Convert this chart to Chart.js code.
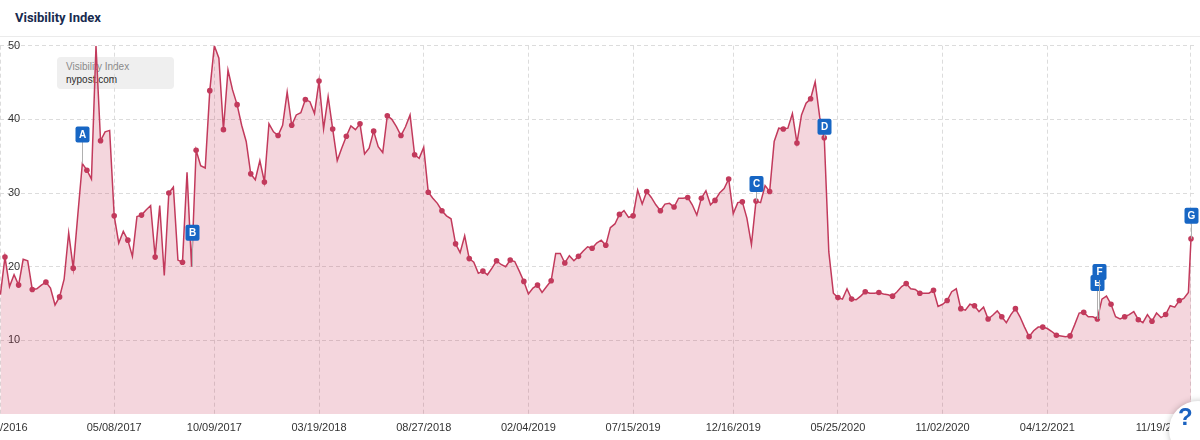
<!DOCTYPE html>
<html>
<head>
<meta charset="utf-8">
<title>Visibility Index</title>
<script src="https://cdn.jsdelivr.net/npm/chart.js@4.4.0/dist/chart.umd.min.js"></script>
<style>
  html, body { margin: 0; padding: 0; background: #fff; }
  body { width: 1200px; height: 440px; position: relative; overflow: hidden; font-family: "Liberation Sans", Arial, sans-serif; }
  .title { position: absolute; left: 15px; top: 9px; font: bold 13px Roboto, "Liberation Sans", sans-serif; line-height: 17px; color: #182b50; }
  .rule { position: absolute; left: 0; right: 0; top: 36px; height: 1px; background: #ebebeb; }
  .legend { position: absolute; left: 57px; top: 57px; width: 117px; height: 32px; box-sizing: border-box; padding: 3px 0 0 9px; background: #efefef; border-radius: 4px; font-size: 10px; line-height: 13px; }
  .legend .name { color: #8a8a8a; }
  .legend .domain { color: #2b2b2b; }
  .chart-box { position: absolute; left: -16px; top: 30px; width: 1216px; height: 410px; }
  .help { position: absolute; left: 1169px; top: 401px; width: 58px; height: 58px; border-radius: 50%; background: #fff; box-shadow: 0 0 6px rgba(0, 0, 0, 0.25); }
  .help span { position: absolute; left: 9px; top: 4px; font: bold 24px "Liberation Sans", Arial, sans-serif; line-height: 24px; color: #1b62c0; }
</style>
</head>
<body>
<div class="title">Visibility Index</div>
<div class="rule"></div>
<div class="legend"><div class="name">Visibility Index</div><div class="domain">nypost.com</div></div>
<div class="chart-box"><canvas id="chart"></canvas></div>
<div class="help"><span>?</span></div>

<script>
// weekly values, first week = 11/14/2016
const values = [
  16.2, 21.3, 17.3, 18.9, 17.5, 21.0, 20.8, 16.9, 17.0, 17.5,
  17.9, 17.1, 14.8, 15.9, 18.3, 24.6, 19.8, 27.0, 34.0, 33.1,
  31.9, 50.0, 37.1, 38.3, 38.5, 26.9, 23.2, 24.8, 23.6, 21.4,
  26.8, 27.0, 27.7, 28.3, 21.3, 28.3, 18.8, 30.0, 30.8, 20.9,
  20.6, 32.8, 20.0, 35.8, 33.7, 33.4, 43.9, 50.0, 48.3, 38.6,
  46.7, 44.0, 42.0, 39.2, 37.0, 32.6, 31.8, 34.4, 31.5, 39.4,
  38.3, 37.8, 39.2, 43.7, 39.2, 40.6, 40.9, 42.7, 42.4, 40.8,
  45.2, 38.7, 43.1, 38.7, 34.4, 36.1, 37.7, 39.1, 38.6, 39.4,
  35.3, 36.1, 38.4, 36.3, 35.5, 40.5, 40.0, 39.0, 37.8, 39.0,
  40.6, 35.2, 34.7, 36.2, 30.1, 29.3, 28.6, 27.6, 26.9, 26.5,
  23.1, 21.9, 24.2, 21.1, 20.6, 19.1, 19.4, 18.9, 19.8, 20.8,
  20.3, 20.0, 20.9, 20.7, 19.4, 18.0, 16.3, 17.1, 17.5, 16.5,
  17.3, 18.1, 21.8, 21.8, 20.5, 21.5, 20.8, 21.4, 22.1, 22.7,
  22.5, 23.2, 23.6, 22.9, 25.3, 25.8, 27.1, 27.6, 26.7, 26.9,
  30.4, 28.5, 30.2, 29.4, 28.4, 27.6, 28.5, 28.6, 28.1, 29.3,
  29.3, 29.4, 28.4, 27.0, 29.3, 30.3, 28.4, 29.0, 30.0, 30.6,
  31.9, 27.2, 28.7, 28.8, 26.6, 23.0, 28.9, 28.7, 31.0, 30.2,
  37.0, 38.8, 38.7, 38.8, 40.8, 36.8, 40.6, 42.2, 42.8, 45.1,
  40.3, 37.5, 22.0, 16.4, 15.8, 15.6, 17.0, 15.6, 15.5, 16.0,
  16.6, 16.4, 16.4, 16.5, 16.3, 16.2, 16.0, 16.6, 17.3, 17.7,
  17.0, 16.9, 16.4, 16.4, 16.4, 16.8, 14.6, 14.9, 15.4, 16.6,
  17.0, 14.3, 14.1, 14.9, 14.7, 13.9, 14.5, 12.9, 13.4, 14.0,
  13.2, 12.4, 13.5, 14.3, 13.2, 11.8, 10.5, 11.3, 11.8, 11.8,
  11.6, 11.2, 10.7, 10.6, 10.5, 10.6, 12.1, 13.7, 13.8, 13.2,
  13.2, 12.9, 15.6, 16.0, 14.9, 13.2, 12.9, 13.2, 13.5, 13.9,
  12.8, 12.4, 13.5, 12.6, 13.7, 13.1, 13.5, 14.7, 14.5, 15.4,
  15.7, 16.5
];

// latest reading (Friday 11/19/2021), in weeks from the start
const latestWeek = 261.57;
const latestValue = 23.8;

// x axis ticks (week number) and their labels
const tickWeeks = [0, 25, 47, 70, 93, 116, 139, 161, 184, 207, 230, 261.57];
const tickLabels = ["11/14/2016", "05/08/2017", "10/09/2017", "03/19/2018", "08/27/2018", "02/04/2019",
  "07/15/2019", "12/16/2019", "05/25/2020", "11/02/2020", "04/12/2021", "11/19/2021"];

// event flags
const flagLabels = ["A", "B", "C", "D", "E", "F", "G"];
const flagWeeks = [18, 42, 166, 181, 241, 241, 261.57];

const points = values.map((v, i) => ({ x: i, y: v }));
points.push({ x: latestWeek, y: latestValue });

const lineColor = "#c23a5c";
const font = '"Liberation Sans", Arial, sans-serif';

// how far above its point each flag sits, in px
const flagLift = { A: 29, B: 34, C: 17, D: 11, E: 36, F: 47, G: 23 };
const flagShift = { F: 2 };

const flagPlugin = {
  id: "flags",
  afterDatasetsDraw(chart) {
    const { ctx, scales: { x, y } } = chart;
    ctx.save();
    flagLabels.forEach((label, k) => {
      const pt = points.find((p) => p.x === flagWeeks[k]);
      const px = Math.round(x.getPixelForValue(pt.x)) + (flagShift[label] || 0) + 0.5;
      const py = y.getPixelForValue(pt.y);
      const cy = py - flagLift[label];
      ctx.strokeStyle = "#b0b0b0";
      ctx.lineWidth = 1;
      ctx.beginPath();
      ctx.moveTo(px, cy + 7);
      ctx.lineTo(px, py);
      ctx.stroke();
      ctx.fillStyle = "#1766c4";
      ctx.beginPath();
      ctx.roundRect(px - 7, cy - 8, 14, 16, 2);
      ctx.fill();
      ctx.fillStyle = "#fff";
      ctx.font = "bold 10px " + font;
      ctx.textAlign = "center";
      ctx.textBaseline = "middle";
      ctx.fillText(label, px, cy + 0.5);
    });
    ctx.restore();
  },
};

// x labels: centred on the tick, pushed left when they would run off the plot
const xLabelPlugin = {
  id: "xLabels",
  afterDraw(chart) {
    const { ctx, chartArea, scales: { x } } = chart;
    ctx.save();
    ctx.font = "11px " + font;
    ctx.fillStyle = "#333";
    ctx.textAlign = "left";
    ctx.textBaseline = "middle";
    tickWeeks.forEach((w, k) => {
      const text = tickLabels[k];
      const width = ctx.measureText(text).width;
      let left = x.getPixelForValue(w) - width / 2;
      left = Math.min(left, chartArea.right - 6 - width);
      ctx.fillText(text, left, chartArea.bottom + 14);
    });
    ctx.restore();
  },
};

new Chart(document.getElementById("chart"), {
  type: "line",
  data: {
    datasets: [
      {
        label: "nypost.com",
        data: points,
        borderColor: lineColor,
        borderWidth: 1.5,
        backgroundColor: "rgba(200, 50, 85, 0.2)",
        fill: "origin",
        tension: 0,
        pointRadius: (c) => (c.dataIndex % 3 === 1 || c.dataIndex === points.length - 1 ? 2.8 : 0),
        pointBackgroundColor: lineColor,
        pointBorderWidth: 0,
      },
    ],
  },
  options: {
    responsive: true,
    maintainAspectRatio: false,
    animation: false,
    layout: { padding: { top: 15.7, bottom: 26, left: 0, right: 0 } },
    scales: {
      x: {
        type: "linear",
        min: -0.09,
        max: 262.67,
        afterBuildTicks: (scale) => {
          scale.ticks = tickWeeks.map((v) => ({ value: v }));
        },
        ticks: { display: false },
        grid: { color: "#dcdcdc", drawTicks: false },
        border: { display: false, dash: [4, 3] },
      },
      y: {
        min: 0,
        max: 50,
        ticks: {
          stepSize: 10,
          mirror: true,
          padding: 8,
          color: "#333",
          font: { size: 11, family: font },
          callback: (v) => (v === 0 ? "" : v),
        },
        grid: {
          color: (c) => (c.tick && c.tick.value === 0 ? "rgba(0,0,0,0)" : "#dcdcdc"),
          drawTicks: false,
        },
        border: { display: false, dash: [4, 3] },
      },
    },
    plugins: {
      legend: { display: false },
      tooltip: { enabled: false },
    },
  },
  plugins: [flagPlugin, xLabelPlugin],
});
</script>
</body>
</html>
